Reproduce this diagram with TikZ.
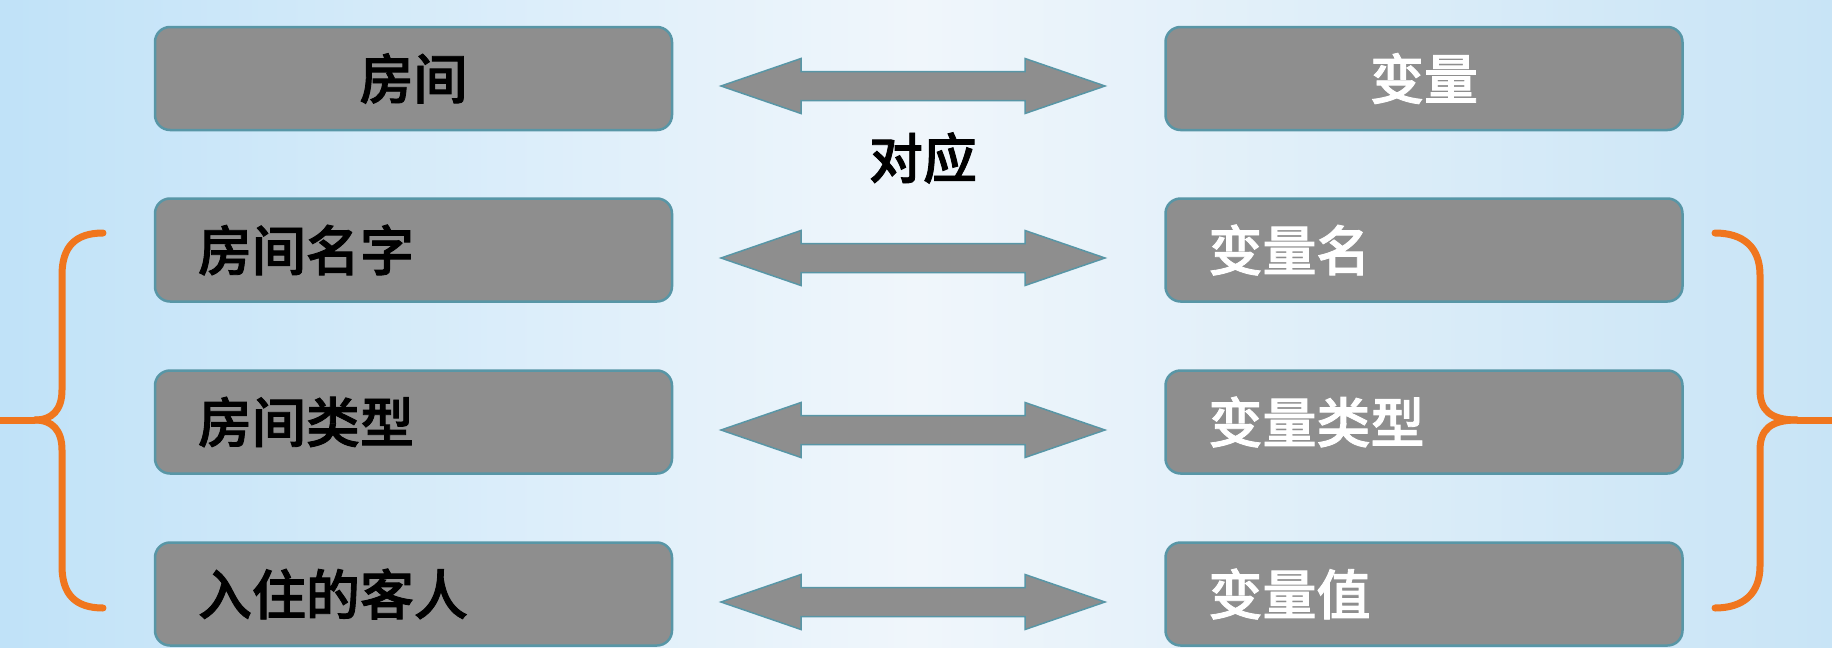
\documentclass[tikz,border=0pt]{standalone}
\usepackage{fontspec}
\newfontfamily\cjk[FakeBold=1.6]{Noto Sans CJK SC Medium}
\usetikzlibrary{calc}
\definecolor{boxgray}{RGB}{142,142,142}
\definecolor{boxedge}{RGB}{88,150,166}
\definecolor{brorange}{RGB}{240,118,30}
\definecolor{bgL}{RGB}{192,226,248}
\definecolor{bgM}{RGB}{240,246,251}
\definecolor{bgR}{RGB}{200,228,246}
\tikzset{
  cell/.style={draw=boxedge, line width=2.5pt, fill=boxgray, rounded corners=15pt,
    minimum width=517pt, minimum height=103pt, inner sep=0pt},
  ltxt/.style={font=\cjk\fontsize{54}{58}\selectfont, text=black, inner sep=0pt},
  rtxt/.style={font=\cjk\fontsize{54}{58}\selectfont, text=white, inner sep=0pt},
  fat/.style={draw=boxedge, line width=1.5pt, fill=boxgray},
  brace/.style={draw=brorange, line width=7pt, line cap=round},
}
\newcommand{\fatarrow}[2]{%
  \path[fat] (#1) -- ($(#1)+(80,-27.5)$) -- ($(#1)+(80,-14.5)$) -- ($(#2)+(-80,-14.5)$)
    -- ($(#2)+(-80,-27.5)$) -- (#2) -- ($(#2)+(-80,27.5)$) -- ($(#2)+(-80,14.5)$)
    -- ($(#1)+(80,14.5)$) -- ($(#1)+(80,27.5)$) -- cycle;}
\begin{document}
\begin{tikzpicture}[x=1pt,y=-1pt]
\useasboundingbox (0,0) rectangle (1832,648);
\shade[left color=bgL, right color=bgR, middle color=bgM] (0,0) rectangle (1832,648);

% left boxes
\node[cell] (l1) at (413.5,78.5) {};
\node[cell] (l2) at (413.5,250) {};
\node[cell] (l3) at (413.5,422) {};
\node[cell] (l4) at (413.5,594) {};
% right boxes
\node[cell] (r1) at (1424,78.5) {};
\node[cell] (r2) at (1424,250) {};
\node[cell] (r3) at (1424,422) {};
\node[cell] (r4) at (1424,594) {};

% texts
\node[ltxt] (t1) at (l1.center) {房间};
\node[ltxt, anchor=west] (t2) at ($(l2.west)+(44,0)$) {房间名字};
\node[ltxt, anchor=west] (t3) at ($(l3.west)+(44,0)$) {房间类型};
\node[ltxt, anchor=west] (t4) at ($(l4.west)+(44,0)$) {入住的客人};
\node[rtxt] (u1) at (r1.center) {变量};
\node[rtxt, anchor=west] (u2) at ($(r2.west)+(44,0)$) {变量名};
\node[rtxt, anchor=west] (u3) at ($(r3.west)+(44,0)$) {变量类型};
\node[rtxt, anchor=west] (u4) at ($(r4.west)+(44,0)$) {变量值};

% arrows
\coordinate (a1) at (721,86);  \coordinate (b1) at (1105,86);
\coordinate (a2) at (721,258); \coordinate (b2) at (1105,258);
\coordinate (a3) at (721,430); \coordinate (b3) at (1105,430);
\coordinate (a4) at (721,602); \coordinate (b4) at (1105,602);
\fatarrow{a1}{b1}
\fatarrow{a2}{b2}
\fatarrow{a3}{b3}
\fatarrow{a4}{b4}

\node[ltxt] (dy) at (923,158) {对应};

% braces
\draw[brace] (103,233) .. controls (75,233) and (62,247) .. (62,275) -- (62,390)
  .. controls (62,410) and (52,420) .. (35,420);
\draw[brace] (35,420) .. controls (52,420) and (62,430) .. (62,450) -- (62,566)
  .. controls (62,594) and (75,608) .. (103,608);
\draw[brace, line cap=butt] (35,420) -- (-5,420);

\draw[brace] (1715,233) .. controls (1743,233) and (1760,247) .. (1760,275) -- (1760,390)
  .. controls (1760,410) and (1770,420) .. (1797,420);
\draw[brace] (1797,420) .. controls (1770,420) and (1760,430) .. (1760,450) -- (1760,566)
  .. controls (1760,594) and (1743,608) .. (1715,608);
\draw[brace, line cap=butt] (1797,420) -- (1837,420);
\end{tikzpicture}
\end{document}
